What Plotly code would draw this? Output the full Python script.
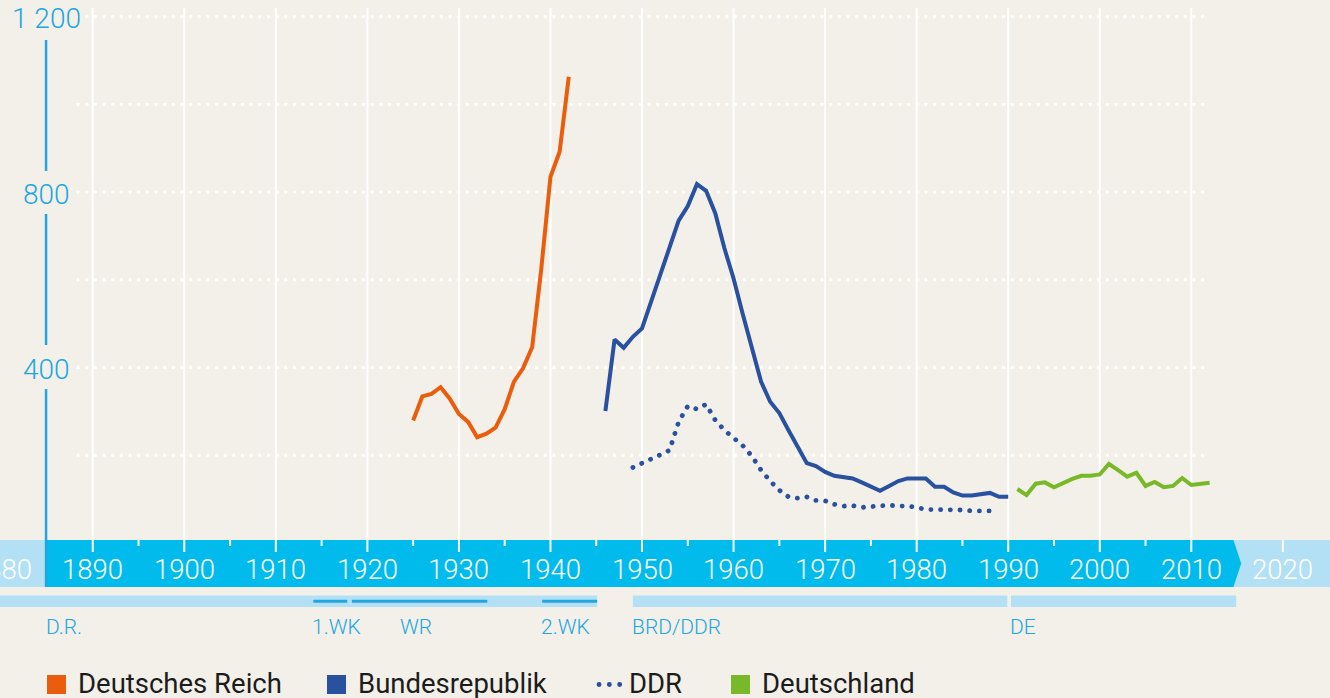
import plotly.graph_objects as go

# ---------------- data ----------------
dr_years = list(range(1925, 1943))
dr_values = [279, 334, 340, 355, 329, 294, 276, 241, 249, 263, 305, 367, 398, 446, 626, 835, 892, 1063]

brd_years = list(range(1946, 1991))
brd_values = [301, 464, 445, 470, 489, 552, 611, 679, 735, 768,
              818, 803, 752, 672, 603, 522, 447, 368, 322, 296,
              257, 219, 182, 175, 162, 153, 150, 147, 138, 128,
              119, 130, 141, 147, 147, 147, 128, 128, 115, 108,
              108, 111, 114, 105, 105]

ddr_years = list(range(1949, 1989))
ddr_values = [172, 181, 191, 201, 211, 276, 312, 305, 316, 280,
              257, 240, 222, 198, 166, 141, 120, 105, 102, 105,
              97, 96, 88, 84, 85, 81, 82, 85, 86, 84,
              84, 81, 76, 76, 76, 76, 75, 73, 73, 73]

de_years = list(range(1991, 2013))
de_values = [123, 109, 135, 138, 127, 137, 146, 153, 153, 156,
             180, 166, 151, 160, 130, 139, 127, 130, 148, 132, 134, 137]

series_names = ["Deutsches Reich", "Bundesrepublik", "DDR", "Deutschland"]
x_tick_years = list(range(1880, 2021, 10))
y_tick_values = [400, 800, 1200]
y_tick_labels = ["400", "800", "1 200"]
grid_values = [200, 400, 600, 800, 1000, 1200]

# period bars (start year, end year)
period_bars = [(1879.8, 1945.1), (1949.0, 1989.9), (1990.3, 2014.9)]
epoch_lines = [(1914.1, 1917.8), (1918.3, 1933.1), (1939.1, 1945.1)]
period_labels = [("D.R.", 1885.0), ("1.WK", 1914.1), ("WR", 1923.7), ("2.WK", 1939.1),
                 ("BRD/DDR", 1949.0), ("DE", 1990.3)]

# ---------------- style ----------------
W, H = 1330, 698
BG = "#f3f0e9"
ORANGE = "#ea5d0c"
BLUE = "#2a519f"
GREEN = "#79b829"
CYAN = "#00bbec"
LIGHT = "#b4e0f6"
LABEL = "#22a6e0"
X0, X1 = 1879.87, 2025.15
Y0, Y1 = -353.7, 1238.1
AXIS_YEAR = 1884.9
BAND_END = 2014.6

def py(p):
    """pixel row -> paper y"""
    return 1 - p / H

def ppx(p):
    """pixel column -> paper x"""
    return p / W

fig = go.Figure()

fig.add_trace(go.Scatter(x=dr_years, y=dr_values, mode="lines", name=series_names[0],
                         line=dict(color=ORANGE, width=4), showlegend=False))
fig.add_trace(go.Scatter(x=brd_years, y=brd_values, mode="lines", name=series_names[1],
                         line=dict(color=BLUE, width=4), showlegend=False))
fig.add_trace(go.Scatter(x=ddr_years, y=ddr_values, mode="lines", name=series_names[2],
                         line=dict(color=BLUE, width=4.8, dash="0.1px,9.6px"), showlegend=False))
fig.add_trace(go.Scatter(x=de_years, y=de_values, mode="lines", name=series_names[3],
                         line=dict(color=GREEN, width=4), showlegend=False))

shapes = []
annotations = []

# dotted horizontal grid
for v in grid_values:
    shapes.append(dict(type="line", xref="x", yref="y", x0=1888.4, x1=2011.5, y0=v, y1=v,
                       line=dict(color="white", width=3.4, dash="0.1px,8.55px"), layer="below"))
# vertical grid lines
for yr in range(1890, 2011, 10):
    shapes.append(dict(type="line", xref="x", yref="paper", x0=yr, x1=yr, y0=py(8), y1=py(552),
                       line=dict(color="white", width=2), layer="below"))

# time band
shapes.append(dict(type="rect", xref="paper", yref="paper", x0=0, x1=1, y0=py(540), y1=py(587),
                   fillcolor=LIGHT, line=dict(width=0), layer="below"))
shapes.append(dict(type="path", xref="x", yref="paper",
                   path=f"M {AXIS_YEAR},{py(540)} L {BAND_END},{py(540)} L {BAND_END+0.85},{py(563.5)} "
                        f"L {BAND_END},{py(587)} L {AXIS_YEAR},{py(587)} Z",
                   fillcolor=CYAN, line=dict(width=0), layer="below"))
# decade grid continues into band, 5-year ticks
for yr in range(1890, 2011, 10):
    shapes.append(dict(type="line", xref="x", yref="paper", x0=yr, x1=yr, y0=py(540), y1=py(552),
                       line=dict(color="white", width=2)))
for yr in range(1895, 2010, 10):
    shapes.append(dict(type="line", xref="x", yref="paper", x0=yr, x1=yr, y0=py(540), y1=py(546),
                       line=dict(color="white", width=2)))
shapes.append(dict(type="line", xref="x", yref="paper", x0=2020, x1=2020, y0=py(540), y1=py(552),
                   line=dict(color="white", width=2)))

# y axis line segments
for a, b in [(40, 171), (214, 345), (389, 587)]:
    shapes.append(dict(type="line", xref="x", yref="paper", x0=AXIS_YEAR, x1=AXIS_YEAR,
                       y0=py(a), y1=py(b), line=dict(color=LABEL, width=2.5)))

# period bars
for a, b in period_bars:
    shapes.append(dict(type="rect", xref="x", yref="paper", x0=a, x1=b, y0=py(595.5), y1=py(607),
                       fillcolor=LIGHT, line=dict(width=0)))
for a, b in epoch_lines:
    shapes.append(dict(type="line", xref="x", yref="paper", x0=a, x1=b, y0=py(601.3), y1=py(601.3),
                       line=dict(color=LABEL, width=3)))
for txt, yr in period_labels:
    annotations.append(dict(text=txt, x=yr, y=py(627), xref="x", yref="paper", xanchor="left",
                            yanchor="middle", showarrow=False, xshift=-3,
                            font=dict(family="Roboto", size=21, color=LABEL, weight=300)))

# x tick labels in band
for yr in x_tick_years:
    annotations.append(dict(text=str(yr), x=yr, y=py(569), xref="x", yref="paper", xanchor="center",
                            yanchor="middle", showarrow=False,
                            font=dict(family="Roboto", size=27.5, color="white", weight=300)))

# y tick labels
for v, lab in zip(y_tick_values, y_tick_labels):
    annotations.append(dict(text=lab, x=AXIS_YEAR, y=v, xref="x", yref="y", xanchor="center",
                            yanchor="middle", showarrow=False, yshift=-2,
                            font=dict(family="Roboto", size=28, color=LABEL, weight=300)))

# legend (manual)
legend_items = [(series_names[0], ORANGE, 47, 79, "square"),
                (series_names[1], BLUE, 327, 359, "square"),
                (series_names[2], BLUE, 597, 630, "dots"),
                (series_names[3], GREEN, 731, 763, "square")]
for name, col, sx, tx, kind in legend_items:
    if kind == "square":
        shapes.append(dict(type="rect", xref="paper", yref="paper", x0=ppx(sx), x1=ppx(sx + 19),
                           y0=py(675), y1=py(694), fillcolor=col, line=dict(width=0)))
    else:
        shapes.append(dict(type="line", xref="paper", yref="paper", x0=ppx(sx + 2), x1=ppx(sx + 24),
                           y0=py(684.5), y1=py(684.5),
                           line=dict(color=col, width=4.8, dash="0.1px,10.2px")))
    annotations.append(dict(text=name, x=ppx(tx), y=py(683.5), xref="paper", yref="paper",
                            xanchor="left", yanchor="middle", showarrow=False, xshift=-3,
                            font=dict(family="Roboto", size=27.5, color="#1c1c1c")))

fig.update_layout(
    width=W, height=H,
    margin=dict(l=0, r=0, t=0, b=0),
    paper_bgcolor=BG, plot_bgcolor=BG,
    xaxis=dict(range=[X0, X1], visible=False, fixedrange=True),
    yaxis=dict(range=[Y0, Y1], visible=False, fixedrange=True),
    shapes=shapes, annotations=annotations,
    showlegend=False,
)

post = """
(function(){
  document.documentElement.style.margin = '0';
  document.documentElement.style.padding = '0';
  document.body.style.margin = '0';
  document.body.style.padding = '0';
  document.body.style.background = '#f3f0e9';
  document.body.style.overflow = 'hidden';
  var gd = document.getElementById('{plot_id}');
  function fix(){
    var els = document.querySelectorAll('path');
    els.forEach(function(p){
      var d = (p.style && p.style.strokeDasharray) || p.getAttribute('stroke-dasharray') || '';
      if (d.indexOf('0.1px') >= 0 || d.indexOf('0.1,') >= 0 || d.indexOf('0.1 ') >= 0) {
        p.style.strokeLinecap = 'round';
      }
    });
  }
  fix();
  if (gd && gd.on) { gd.on('plotly_afterplot', fix); }
  setTimeout(fix, 50);
  setTimeout(fix, 300);
})();
"""

fig.write_html("out.html", config={"displayModeBar": False}, post_script=post)
